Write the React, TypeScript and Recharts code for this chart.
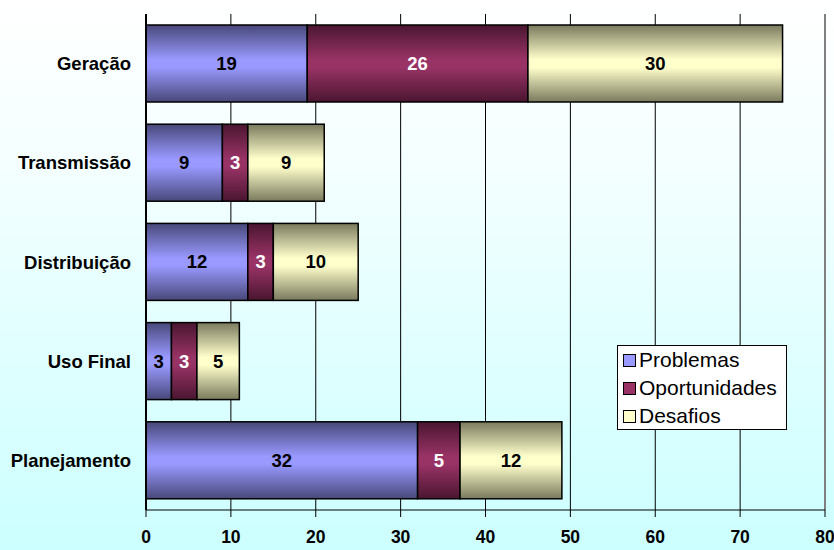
import React from "react";
import {
  BarChart,
  Bar,
  XAxis,
  YAxis,
  CartesianGrid,
  LabelList,
  ReferenceLine,
} from "recharts";

// Categories and series values
const categories = ["Geração", "Transmissão", "Distribuição", "Uso Final", "Planejamento"];
const problemas = [19, 9, 12, 3, 32];
const oportunidades = [26, 3, 3, 3, 5];
const desafios = [30, 9, 10, 5, 12];
const xTicks = [0, 10, 20, 30, 40, 50, 60, 70, 80];

const seriesInfo = [
  { key: "problemas", name: "Problemas", grad: "gProb", swatch: "#9999ff", text: "#000" },
  { key: "oportunidades", name: "Oportunidades", grad: "gOpor", swatch: "#993366", text: "#fff" },
  { key: "desafios", name: "Desafios", grad: "gDesa", swatch: "#ffffcc", text: "#000" },
];

const data = categories.map((c, i) => ({
  categoria: c,
  problemas: problemas[i],
  oportunidades: oportunidades[i],
  desafios: desafios[i],
}));

const FONT = "'Liberation Sans', Arial, sans-serif";

// Shared gradient definitions for the cylinder-like bar shading
const GradientDefs = () => (
  <svg width={0} height={0} style={{ position: "absolute" }}>
    <defs>
      <linearGradient id="gProb" x1="0" y1="0" x2="0" y2="1">
        <stop offset="0%" stopColor="#48487a" />
        <stop offset="45%" stopColor="#9999ff" />
        <stop offset="55%" stopColor="#9999ff" />
        <stop offset="100%" stopColor="#48487a" />
      </linearGradient>
      <linearGradient id="gOpor" x1="0" y1="0" x2="0" y2="1">
        <stop offset="0%" stopColor="#4a1630" />
        <stop offset="45%" stopColor="#993366" />
        <stop offset="55%" stopColor="#993366" />
        <stop offset="100%" stopColor="#4a1630" />
      </linearGradient>
      <linearGradient id="gDesa" x1="0" y1="0" x2="0" y2="1">
        <stop offset="0%" stopColor="#7a7a5e" />
        <stop offset="45%" stopColor="#ffffcc" />
        <stop offset="55%" stopColor="#ffffcc" />
        <stop offset="100%" stopColor="#7a7a5e" />
      </linearGradient>
    </defs>
  </svg>
);

const GradientBar = (props: any) => {
  const { x, y, width, height, grad } = props;
  if (width == null || height == null || width <= 0) return null;
  return (
    <rect
      x={x}
      y={y}
      width={width}
      height={height}
      fill={`url(#${grad})`}
      stroke="#000"
      strokeWidth={1.5}
    />
  );
};

const Legend = () => (
  <div
    style={{
      position: "absolute",
      left: 617,
      top: 345,
      width: 170,
      height: 85,
      background: "#fff",
      border: "1px solid #000",
      boxSizing: "border-box",
      fontFamily: FONT,
      fontSize: 21,
      paddingTop: 0,
    }}
  >
    {seriesInfo.map((s) => (
      <div key={s.key} style={{ display: "flex", alignItems: "center", height: 28, paddingLeft: 5 }}>
        <div
          style={{
            width: 11,
            height: 11,
            background: s.swatch,
            border: "1px solid #000",
            marginRight: 3,
          }}
        />
        <span style={{ lineHeight: "28px" }}>{s.name}</span>
      </div>
    ))}
  </div>
);

export default function App() {
  return (
    <div
      style={{
        position: "absolute",
        left: 0,
        top: 0,
        width: 834,
        height: 550,
        background: "linear-gradient(to bottom, #ffffff 0%, #f4ffff 30%, #ccffff 100%)",
        fontFamily: FONT,
      }}
    >
      <GradientDefs />
      <BarChart
        width={834}
        height={550}
        data={data}
        layout="vertical"
        margin={{ top: 14, right: 9, bottom: 0, left: 0 }}
        barCategoryGap={11}
      >
        <CartesianGrid horizontal={false} vertical stroke="#000" strokeOpacity={1} />
        <ReferenceLine x={80} stroke="#808080" strokeWidth={2} />
        <XAxis
          type="number"
          domain={[0, 80]}
          ticks={xTicks}
          interval={0}
          height={40}
          axisLine={{ stroke: "#000" }}
          tickLine={{ stroke: "#000" }}
          tickSize={7}
          tick={{ fill: "#000", fontSize: 17.5, fontWeight: "bold", fontFamily: FONT }}
          tickMargin={14}
        />
        <YAxis
          type="category"
          dataKey="categoria"
          width={146}
          axisLine={{ stroke: "#000", strokeWidth: 2 }}
          tickLine={false}
          tickMargin={9}
          tick={{ fill: "#000", fontSize: 18.5, fontWeight: "bold", fontFamily: FONT }}
        />
        {seriesInfo.map((s) => (
          <Bar
            key={s.key}
            dataKey={s.key}
            name={s.name}
            stackId="a"
            fill={s.swatch}
            shape={(p: any) => <GradientBar {...p} grad={s.grad} />}
            isAnimationActive={false}
          >
            <LabelList
              dataKey={s.key}
              position="center"
              fill={s.text}
              style={{ fontSize: 18.5, fontWeight: "bold", fontFamily: FONT }}
            />
          </Bar>
        ))}
      </BarChart>
      <Legend />
    </div>
  );
}
